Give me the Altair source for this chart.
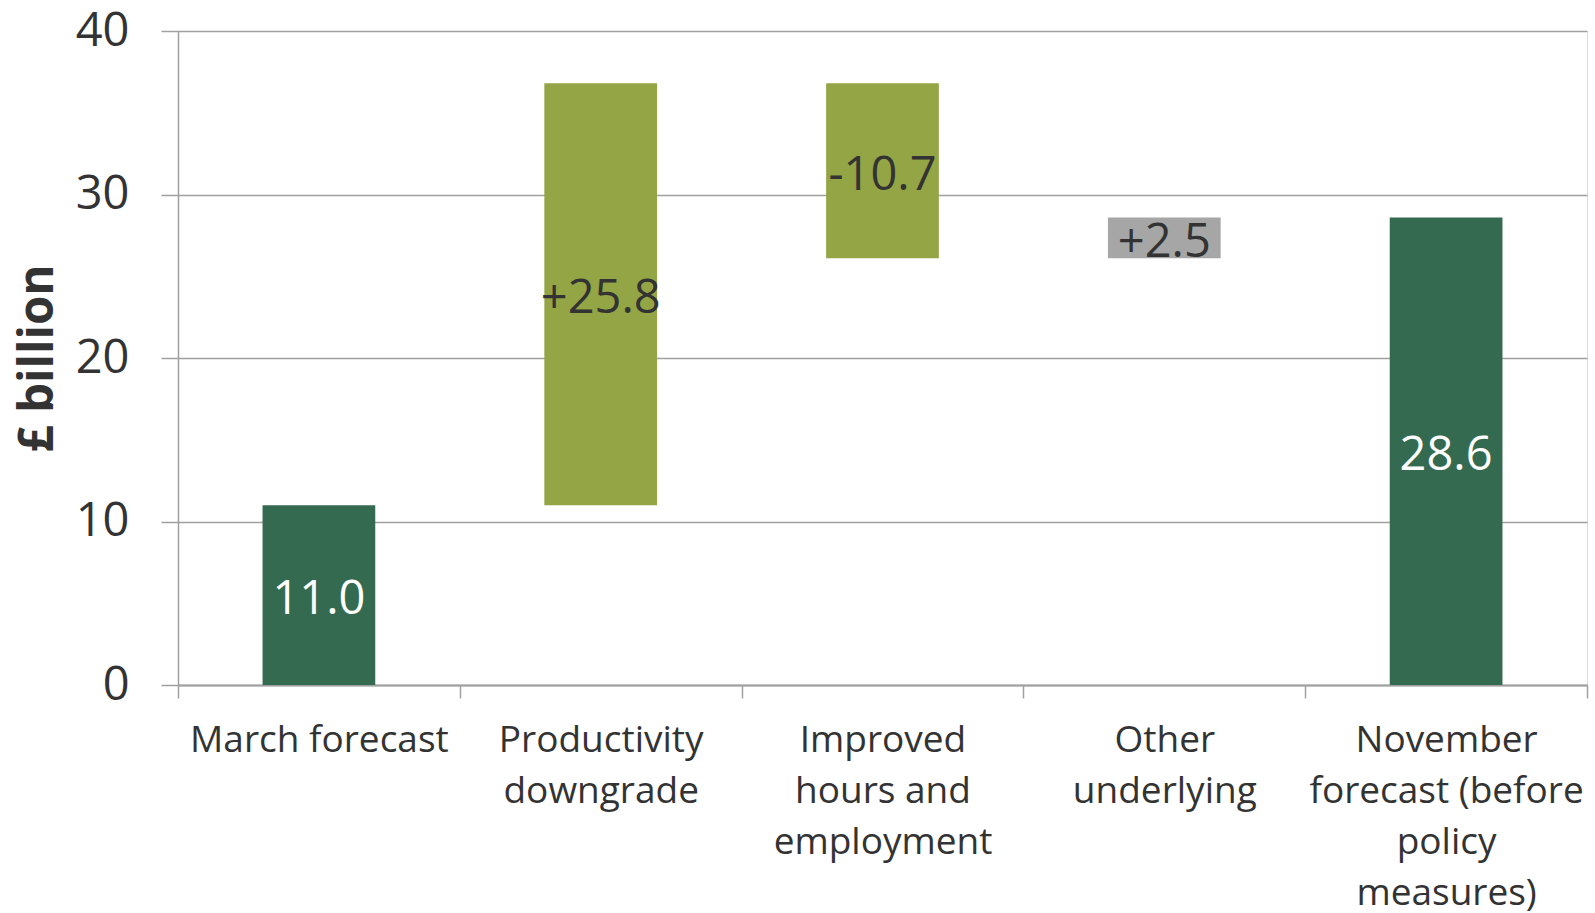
import altair as alt
import pandas as pd

categories = ["March forecast", "Productivity|downgrade", "Improved|hours and|employment",
              "Other|underlying", "November|forecast (before|policy|measures)"]
bar_start = [0.0, 11.0, 36.8, 26.1, 0.0]
bar_end = [11.0, 36.8, 26.1, 28.6, 28.6]
labels = ["11.0", "+25.8", "-10.7", "+2.5", "28.6"]
bar_colors = ["#346A50", "#93A544", "#93A544", "#A6A6A6", "#346A50"]
label_colors = ["#FFFFFF", "#333333", "#333333", "#333333", "#FFFFFF"]

df = pd.DataFrame({
    "cat": categories,
    "start": bar_start,
    "end": bar_end,
    "label": labels,
    "bcolor": bar_colors,
    "lcolor": label_colors,
})
df["mid"] = (df["start"] + df["end"]) / 2

FONT = "Open Sans"
TEXT = "#333333"
GRID = "#A0A0A0"

x = alt.X("cat:N", sort=None, title=None,
          scale=alt.Scale(paddingInner=0, paddingOuter=0),
          axis=alt.Axis(labelAngle=0, labelExpr="split(datum.label, '|')",
                        labelFont=FONT, labelFontSize=37, labelColor=TEXT,
                        labelLineHeight=51, labelLimit=400, labelPadding=24,
                        tickBand="extent", tickSize=13, tickColor=GRID,
                        domainColor=GRID, domainWidth=2, tickWidth=1.5, grid=False))

bars = alt.Chart(df).mark_bar(width={"band": 0.4}).encode(
    x=x,
    y=alt.Y("start:Q", title="£ billion",
            scale=alt.Scale(domain=[0, 40], nice=False),
            axis=alt.Axis(values=[0, 10, 20, 30, 40], grid=True, gridColor=GRID,
                          gridWidth=1.5, tickSize=17, tickColor=GRID, tickWidth=1.5,
                          domainColor=GRID, domainWidth=1.5,
                          labelFont=FONT, labelFontSize=47, labelColor=TEXT,
                          labelPadding=32,
                          titleFont=FONT, titleFontSize=47.5, titleFontWeight="bold",
                          titleColor=TEXT, titleAngle=270, titleX=-126, titleY=327,
                          titleAlign="center", titleBaseline="alphabetic")),
    y2="end:Q",
    color=alt.Color("bcolor:N", scale=None),
)

text = alt.Chart(df).mark_text(font=FONT, fontSize=47, baseline="middle", align="center", dy=5).encode(
    x=alt.X("cat:N", sort=None),
    y=alt.Y("mid:Q"),
    text="label:N",
    color=alt.Color("lcolor:N", scale=None),
)

chart = alt.layer(bars, text).properties(
    width=1409, height=654,
    autosize=alt.AutoSizeParams(type="none"),
    padding={"left": 178, "top": 31, "right": 8, "bottom": 228},
).configure_view(stroke=None).configure(background="white")

chart.save("out.html", embed_options={"renderer": "svg", "actions": False})
